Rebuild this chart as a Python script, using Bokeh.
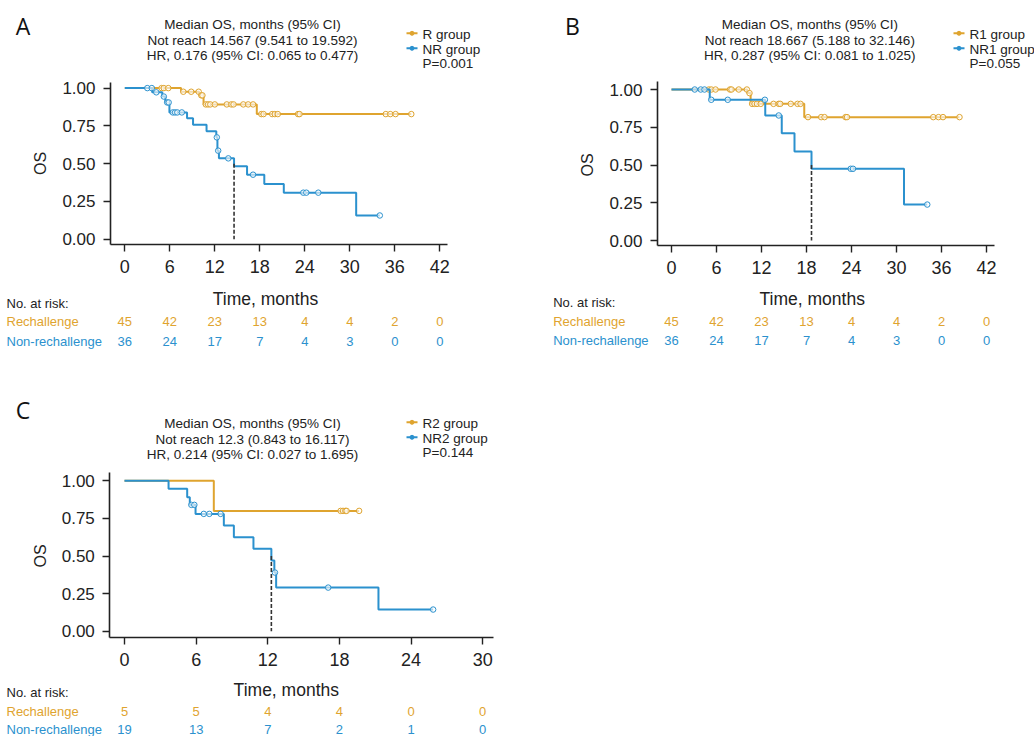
import numpy as np
from bokeh.plotting import figure
from bokeh.models import Range1d, FixedTicker, PrintfTickFormatter, Label
from bokeh.layouts import column, row
from bokeh.embed import file_html
from bokeh.resources import INLINE

ORANGE = "#DFA42F"
BLUE = "#2B91CE"
DARK = "#222222"
FONT = "Liberation Sans"

# ---------------- data ----------------
# Panel A  (R group vs NR group)
A_R_time = [0, 7.5, 9.9, 10.5, 17.6, 38.2]
A_R_surv = [1.0, 0.976, 0.952, 0.892, 0.828, 0.828]
A_R_cens = [4.9, 5.2, 5.8, 7.8, 8.85, 9.85, 10.2, 10.35, 10.8, 11.1, 11.4, 12.0,
            13.6, 14.2, 14.5, 15.8, 16.45, 17.1, 18.2, 18.5, 19.65, 20.0, 20.4,
            23.1, 23.3, 34.8, 35.4, 36.1, 38.2]
A_NR_time = [0, 3.65, 5.0, 5.4, 5.95, 8.3, 9.1, 10.9, 12.2, 12.35, 12.55, 14.567,
             16.3, 18.6, 21.2, 30.85, 34.0]
A_NR_surv = [1.0, 0.972, 0.944, 0.905, 0.839, 0.80, 0.758, 0.714, 0.674, 0.586,
             0.535, 0.482, 0.427, 0.366, 0.308, 0.157, 0.157]
A_NR_cens = [3.0, 3.6, 4.2, 5.2, 5.65, 5.85, 6.4, 6.7, 7.0, 7.6, 12.27, 12.45,
             13.8, 17.1, 23.8, 24.2, 25.8, 34.0]
A_median = 14.567
A_header = ["Median OS, months (95% CI)",
            "Not reach 14.567 (9.541 to 19.592)",
            "HR, 0.176 (95% CI: 0.065 to 0.477)"]
A_groups = ["R group", "NR group"]
A_pvalue = "P=0.001"
A_risk_times = [0, 6, 12, 18, 24, 30, 36, 42]
A_risk_R = [45, 42, 23, 13, 4, 4, 2, 0]
A_risk_NR = [36, 24, 17, 7, 4, 3, 0, 0]

# Panel B  (R1 group vs NR1 group)
B_R_time = [0, 10.1, 10.55, 17.7, 38.4]
B_R_surv = [1.0, 0.976, 0.905, 0.817, 0.817]
B_R_cens = [4.98, 5.3, 5.87, 7.8, 8.0, 8.97, 10.05, 10.4, 10.75, 11.07, 11.4,
            11.9, 13.6, 14.3, 14.5, 15.9, 16.8, 17.2, 18.2, 19.96, 20.4, 23.2,
            23.4, 34.9, 35.6, 36.2, 38.4]
B_NR_time = [0, 5.1, 12.5, 14.7, 16.4, 18.667, 31.0, 34.1]
B_NR_surv = [1.0, 0.932, 0.828, 0.71, 0.59, 0.475, 0.238, 0.238]
B_NR_cens = [3.1, 3.9, 4.4, 5.3, 7.5, 12.45, 14.3, 23.9, 24.2, 34.1]
B_median = 18.667
B_header = ["Median OS, months (95% CI)",
            "Not reach 18.667 (5.188 to 32.146)",
            "HR, 0.287 (95% CI: 0.081 to 1.025)"]
B_groups = ["R1 group", "NR1 group"]
B_pvalue = "P=0.055"
B_risk_times = [0, 6, 12, 18, 24, 30, 36, 42]
B_risk_R = [45, 42, 23, 13, 4, 4, 2, 0]
B_risk_NR = [36, 24, 17, 7, 4, 3, 0, 0]

# Panel C  (R2 group vs NR2 group)
C_R_time = [0, 7.48, 19.65]
C_R_surv = [1.0, 0.80, 0.80]
C_R_cens = [18.1, 18.3, 18.5, 18.6, 19.65]
C_NR_time = [0, 3.69, 5.25, 5.47, 5.95, 8.32, 9.16, 10.8, 12.3, 12.55, 12.7,
             21.27, 25.85]
C_NR_surv = [1.0, 0.947, 0.891, 0.84, 0.78, 0.703, 0.625, 0.548, 0.47, 0.39,
             0.29, 0.144, 0.144]
C_NR_cens = [5.6, 5.85, 6.64, 7.1, 8.05, 12.6, 17.06, 25.85]
C_median = 12.3
C_header = ["Median OS, months (95% CI)",
            "Not reach 12.3 (0.843 to 16.117)",
            "HR, 0.214 (95% CI: 0.027 to 1.695)"]
C_groups = ["R2 group", "NR2 group"]
C_pvalue = "P=0.144"
C_risk_times = [0, 6, 12, 18, 24, 30]
C_risk_R = [5, 5, 4, 4, 0, 0]
C_risk_NR = [19, 13, 7, 2, 1, 0]

Y_TICKS = [0, 0.25, 0.5, 0.75, 1.0]
ROW_NAMES = ["Rechallenge", "Non-rechallenge"]


def surv_at(times, surv, t):
    idx = np.searchsorted(np.asarray(times), np.asarray(t), side="right") - 1
    return list(np.asarray(surv)[idx])


def build(cfg):
    fx, fy, fw, fh = cfg["fig"]
    sl, sr, st, sb = cfg["spines"]          # spine extents in page pixels
    x0, xs, y0, ys = cfg["scale"]
    X = lambda px: (px - x0) / xs
    Y = lambda py: (y0 - py) / ys

    p = figure(width=fw, height=fh,
               x_range=Range1d(X(fx), X(fx + fw)), y_range=Range1d(Y(fy + fh), Y(fy)),
               min_border=0, min_border_left=0, min_border_right=0,
               min_border_top=0, min_border_bottom=0,
               output_backend="svg", toolbar_location=None, tools="")
    p.outline_line_color = None
    p.background_fill_color = "white"
    p.border_fill_color = "white"
    p.xgrid.visible = False
    p.ygrid.visible = False

    for ax in (p.xaxis, p.yaxis):
        ax.axis_line_color = DARK
        ax.axis_line_width = 1.6
        ax.major_tick_line_color = DARK
        ax.major_tick_line_width = 1.4
        ax.major_tick_in = 0
        ax.major_tick_out = 7
        ax.minor_tick_line_color = None
        ax.major_label_text_color = DARK
        ax.major_label_text_font = FONT
    p.xaxis.fixed_location = Y(sb)
    p.xaxis.bounds = (X(sl), X(sr))
    p.xaxis.ticker = FixedTicker(ticks=cfg["xticks"])
    p.xaxis.major_label_text_font_size = "18px"
    p.xaxis.major_label_standoff = 8
    p.yaxis.fixed_location = X(sl)
    p.yaxis.bounds = (Y(sb), Y(st))
    p.yaxis.ticker = FixedTicker(ticks=Y_TICKS)
    p.yaxis.formatter = PrintfTickFormatter(format="%.2f")
    p.yaxis.major_label_text_font_size = "17px"
    p.yaxis.major_label_standoff = 8

    def lab(px, py, text, size, color=DARK, align="left", font=FONT, angle=0.0, xdata=None):
        p.add_layout(Label(x=(xdata if xdata is not None else X(px)), y=Y(py), text=text,
                           text_font=font, text_font_size=size, text_color=color,
                           text_align=align, text_baseline="middle", angle=angle))

    # curves
    for (t, s, c, col) in ((cfg["R"][0], cfg["R"][1], cfg["R"][2], ORANGE),
                           (cfg["NR"][0], cfg["NR"][1], cfg["NR"][2], BLUE)):
        p.step(t, s, mode="after", line_color=col, line_width=2)
        p.scatter(c, surv_at(t, s, c), marker="circle", size=5.5,
                  line_color=col, line_width=1, fill_color="white", fill_alpha=0.6)

    # median
    med = cfg["median"]
    p.segment(x0=[med], y0=[0.5], x1=[med], y1=[0], line_color="#333333",
              line_width=1.6, line_dash="4 2")

    # panel letter
    lx, ly = cfg["letter_pos"]
    lab(lx, ly, cfg["letter"], "23px", color="#111111", align="center", font="Open Sans")

    # header
    hx, hy = cfg["header_pos"]
    for i, line in enumerate(cfg["header"]):
        lab(hx, hy + i * 15.5, line, "13.5px", align="center")

    # legend
    gx, gy = cfg["legend_pos"]
    for i, (name, col) in enumerate(zip(cfg["groups"], (ORANGE, BLUE))):
        yy = gy + i * 15
        p.segment(x0=[X(gx)], y0=[Y(yy - 1.5)], x1=[X(gx + 11)], y1=[Y(yy - 1.5)],
                  line_color=col, line_width=2)
        p.scatter([X(gx + 5.5)], [Y(yy - 1.5)], size=4, color=col)
        lab(gx + 16, yy, name, "13.5px")
    lab(gx + 16, gy + 29, cfg["pvalue"], "13.5px")

    # y label
    ox, oy = cfg["os_pos"]
    lab(ox, oy, "OS", "16px", align="center", angle=np.pi / 2)

    # x label and risk table
    tx, ty = cfg["time_pos"]
    lab(tx, ty, "Time, months", "17.5px", align="center")
    rx, r0, r1, r2 = cfg["risk_rows"]
    lab(rx, r0, "No. at risk:", "13px")
    lab(rx, r1, ROW_NAMES[0], "13px", color=ORANGE)
    lab(rx, r2, ROW_NAMES[1], "13px", color=BLUE)
    for t, a, b in zip(cfg["risk_times"], cfg["risk_R"], cfg["risk_NR"]):
        lab(0, r1, str(a), "13px", color=ORANGE, align="center", xdata=t)
        lab(0, r2, str(b), "13px", color=BLUE, align="center", xdata=t)
    return p


pA = build(dict(fig=(0, 0, 552, 393), spines=(110, 447, 81.7, 244),
                scale=(124.3, 7.5, 238.7, 151.1),
                xticks=A_risk_times, R=(A_R_time, A_R_surv, A_R_cens),
                NR=(A_NR_time, A_NR_surv, A_NR_cens), median=A_median,
                letter="A", letter_pos=(22.5, 25), header=A_header, header_pos=(252, 24),
                groups=A_groups, pvalue=A_pvalue, legend_pos=(406, 34.3),
                os_pos=(40, 163), time_pos=(265, 298.3),
                risk_rows=(6, 302.7, 320.7, 340.7), risk_times=A_risk_times,
                risk_R=A_risk_R, risk_NR=A_risk_NR))

pB = build(dict(fig=(552, 0, 482, 393), spines=(657, 994, 80.5, 245),
                scale=(671, 7.5, 240, 151),
                xticks=B_risk_times, R=(B_R_time, B_R_surv, B_R_cens),
                NR=(B_NR_time, B_NR_surv, B_NR_cens), median=B_median,
                letter="B", letter_pos=(572, 25), header=B_header, header_pos=(809.3, 24),
                groups=B_groups, pvalue=B_pvalue, legend_pos=(953, 34.3),
                os_pos=(587, 164.5), time_pos=(811.7, 298.3),
                risk_rows=(552.7, 301.7, 320.7, 340.2), risk_times=B_risk_times,
                risk_R=B_risk_R, risk_NR=B_risk_NR))

pC = build(dict(fig=(0, 393, 552, 343), spines=(109.3, 493, 471.7, 637.3),
                scale=(124, 11.94, 630.7, 150.4),
                xticks=C_risk_times, R=(C_R_time, C_R_surv, C_R_cens),
                NR=(C_NR_time, C_NR_surv, C_NR_cens), median=C_median,
                letter="C", letter_pos=(22.5, 409), header=C_header, header_pos=(252, 423.3),
                groups=C_groups, pvalue=C_pvalue, legend_pos=(406, 423.3),
                os_pos=(40, 555.5), time_pos=(285.8, 689),
                risk_rows=(6, 691.7, 710.7, 728.5), risk_times=C_risk_times,
                risk_R=C_risk_R, risk_NR=C_risk_NR))

layout = column(row(pA, pB), pC)
open("out.html", "w").write(file_html(layout, INLINE))
